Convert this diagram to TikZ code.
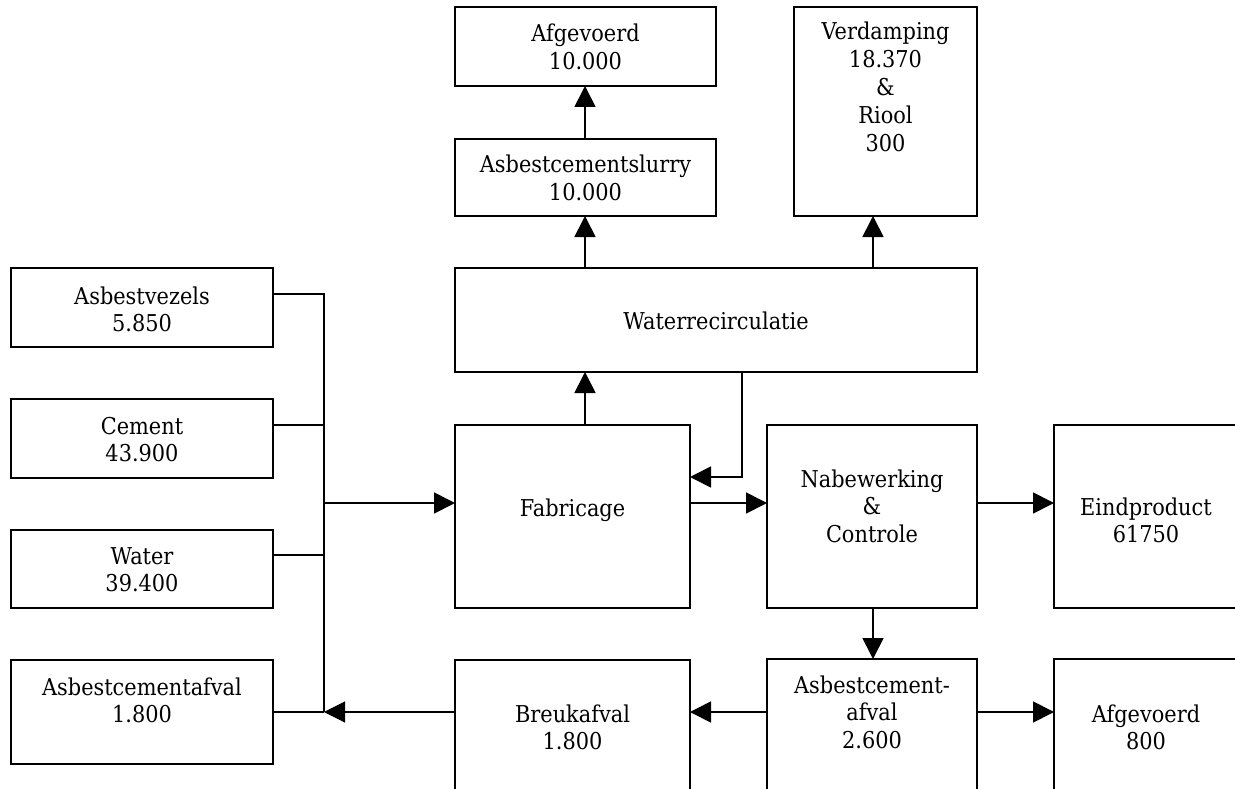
\documentclass[tikz,border=0pt]{standalone}
\usepackage{fontspec}
\setmainfont[FakeStretch=0.9]{DejaVu Serif}
\usetikzlibrary{arrows.meta}
\newcommand{\ml}[1]{\begin{tabular}[t]{@{}c@{}}#1\end{tabular}}
\begin{document}
\begin{tikzpicture}[x=1pt,y=-1pt,
  box/.style={draw=black, line width=2pt, rectangle, inner sep=0pt, outer sep=0pt, anchor=north west},
  txt/.style={anchor=base, inner sep=0pt, font=\fontsize{23.2}{27.8}\selectfont},
  conn/.style={draw=black, line width=1.7pt},
  arr/.style={conn, -{Triangle[length=21pt,width=21pt]}},
  thinarr/.style={draw=black, line width=1.1pt, -{Triangle[length=21pt,width=21pt]}}]
\useasboundingbox (0,0) rectangle (1235,789);
\clip (0,0) rectangle (1235,789);
% boxes
\node[box, minimum width=262pt, minimum height=79pt] (av) at (11,268) {};
\node[box, minimum width=262pt, minimum height=79pt] (ce) at (11,399) {};
\node[box, minimum width=262pt, minimum height=78pt] (wa) at (11,530) {};
\node[box, minimum width=262pt, minimum height=104pt] (aca) at (11,660) {};
\node[box, minimum width=235pt, minimum height=183pt] (fab) at (455,425) {};
\node[box, minimum width=210pt, minimum height=183pt] (nab) at (767,425) {};
\node[box, minimum width=184pt, minimum height=183pt] (eind) at (1054,425) {};
\node[box, minimum width=261pt, minimum height=79pt] (afv1) at (455,7) {};
\node[box, minimum width=261pt, minimum height=77pt] (slurry) at (455,139) {};
\node[box, minimum width=183pt, minimum height=209pt] (verd) at (794,7) {};
\node[box, minimum width=522pt, minimum height=104pt] (wr) at (455,268) {};
\node[box, minimum width=235pt, minimum height=180pt] (breuk) at (455,660) {};
\node[box, minimum width=210pt, minimum height=180pt] (acw) at (767,659) {};
\node[box, minimum width=184pt, minimum height=180pt] (afv2) at (1054,659) {};
% texts
\node[txt] (t-av) at (142,304) {\ml{Asbestvezels\\5.850}};
\node[txt] (t-ce) at (142,434) {\ml{Cement\\43.900}};
\node[txt] (t-wa) at (142,564) {\ml{Water\\39.400}};
\node[txt] (t-aca) at (142,695) {\ml{Asbestcementafval\\1.800}};
\node[txt] (t-fab) at (572.5,516) {Fabricage};
\node[txt] (t-nab) at (872,487) {\ml{Nabewerking\\\&\\Controle}};
\node[txt] (t-eind) at (1146,515) {\ml{Eindproduct\\61750}};
\node[txt] (t-afv1) at (585.5,42) {\ml{Afgevoerd\\10.000}};
\node[txt] (t-slurry) at (585.5,173) {\ml{Asbestcementslurry\\10.000}};
\node[txt] (t-verd) at (885.5,40) {\ml{Verdamping\\18.370\\\&\\Riool\\300}};
\node[txt] (t-wr) at (716,329) {Waterrecirculatie};
\node[txt] (t-breuk) at (572.5,722) {\ml{Breukafval\\1.800}};
\node[txt] (t-acw) at (872,693) {\ml{Asbestcement-\\afval\\2.600}};
\node[txt] (t-afv2) at (1146,722) {\ml{Afgevoerd\\800}};
% junction coordinates
\coordinate (b1) at (324,294);
\coordinate (b2) at (324,425);
\coordinate (b3) at (324,555);
\coordinate (b4) at (324,712);
\coordinate (bin) at (324,503);
\coordinate (up) at (585,0);
\coordinate (vx) at (873,0);
\coordinate (rx) at (742,0);
\coordinate (ry) at (0,477);
\coordinate (my) at (0,503);
\coordinate (ly) at (0,712);
% connectors
\draw[conn] (av.east |- b1) -- (b1) -- (b4);
\draw[conn] (ce.east |- b2) -- (b2);
\draw[conn] (wa.east |- b3) -- (b3);
\draw[conn] (aca.east |- b4) -- (b4);
\draw[arr] (bin) -- (fab.west |- bin);
\draw[arr] (fab.north -| up) -- (wr.south -| up);
\draw[arr] (wr.north -| up) -- (slurry.south -| up);
\draw[arr] (slurry.north -| up) -- (afv1.south -| up);
\draw[arr] (wr.north -| vx) -- (verd.south -| vx);
\draw[arr] (wr.south -| rx) -- (rx |- ry) -- (fab.east |- ry);
\draw[arr] (fab.east |- my) -- (nab.west |- my);
\draw[arr] (nab.east |- my) -- (eind.west |- my);
\draw[arr] (nab.south -| vx) -- (acw.north -| vx);
\draw[arr] (acw.east |- ly) -- (afv2.west |- ly);
\draw[arr] (acw.west |- ly) -- (breuk.east |- ly);
\draw[thinarr] (breuk.west |- ly) -- (b4);
\end{tikzpicture}
\end{document}
